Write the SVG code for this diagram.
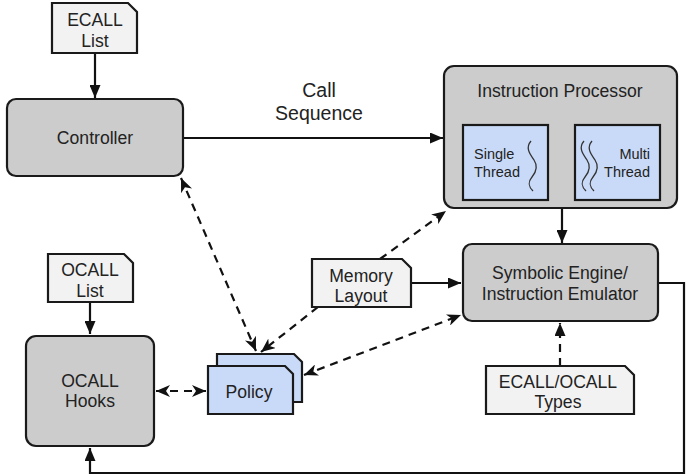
<svg xmlns="http://www.w3.org/2000/svg" width="686" height="476" viewBox="0 0 686 476">
<defs>
<style>
text{font-family:"Liberation Sans",Arial,sans-serif;fill:#222;text-anchor:middle}
.big{font-size:17.6px}
.sm{font-size:14.5px}
.proc{fill:#cccccc;stroke:#1a1a1a;stroke-width:2.2}
.note{fill:#f2f2f2;stroke:#1a1a1a;stroke-width:2.2}
.blue{fill:#c9daf8;stroke:#1a1a1a;stroke-width:2.2}
.wave{fill:none;stroke:#333;stroke-width:1.3}
.c{fill:none;stroke:#111;stroke-width:2.2}
.d{fill:none;stroke:#111;stroke-width:2.2;stroke-dasharray:8,6}
</style>
<marker id="a" markerWidth="13" markerHeight="11" refX="13" refY="5.5" orient="auto" markerUnits="userSpaceOnUse"><path d="M0,0 L13,5.5 L0,11 Z" fill="#111"/></marker>
<marker id="b" markerWidth="14" markerHeight="12" refX="14" refY="6" orient="auto" markerUnits="userSpaceOnUse"><path d="M0,0 L14,6 L0,12 L4,6 Z" fill="#111"/></marker>
<marker id="bs" markerWidth="14" markerHeight="12" refX="0" refY="6" orient="auto" markerUnits="userSpaceOnUse"><path d="M14,0 L0,6 L14,12 L10,6 Z" fill="#111"/></marker>
</defs>

<g id="connectors">
<path class="c" d="M95,53 V98" marker-end="url(#a)"/>
<path class="c" d="M183,138 H443" marker-end="url(#a)"/>
<path class="c" d="M562,208 V243" marker-end="url(#a)"/>
<path class="c" d="M411,283 H461" marker-end="url(#a)"/>
<path class="c" d="M90,302 V334" marker-end="url(#a)"/>
<path class="c" d="M658,283 H684 V473 H90 V448" marker-end="url(#a)"/>
<path class="d" d="M560,366 V323" marker-end="url(#a)"/>
<path class="d" d="M380,259 L446,211" marker-end="url(#b)"/>
<path class="d" d="M318,307 L261,352" marker-end="url(#b)"/>
<path class="d" d="M181,178 L256,351" marker-start="url(#bs)" marker-end="url(#b)"/>
<path class="d" d="M304,375 L461,315" marker-start="url(#bs)" marker-end="url(#b)"/>
<path class="d" d="M156,391 H206" marker-start="url(#bs)" marker-end="url(#b)"/>
</g>

<g id="ecall-list">
<path class="note" d="M52,3 H128 L137,12 V53 H52 Z"/>
<text class="big" x="95" y="26">ECALL</text>
<text class="big" x="95" y="47">List</text>
</g>

<g id="controller">
<rect class="proc" x="7" y="99" width="176" height="77" rx="9"/>
<text class="big" x="95" y="144">Controller</text>
</g>

<g id="call-sequence-label">
<text x="319" y="97" style="font-size:19.5px">Call</text>
<text x="319" y="120" style="font-size:19.5px">Sequence</text>
</g>

<g id="instruction-processor">
<rect class="proc" x="444" y="66" width="233" height="142" rx="10"/>
<text class="big" x="560" y="97">Instruction Processor</text>
<rect class="blue" x="463" y="125" width="85" height="75"/>
<text class="sm" x="474" y="159" style="text-anchor:start">Single</text>
<text class="sm" x="474" y="177" style="text-anchor:start">Thread</text>
<path class="wave" d="M531,141 C525,148 530,154 534,160 C538,166 537,171 532,177 C527,183 529,187 533,191"/>
<rect class="blue" x="575" y="125" width="85" height="75"/>
<text class="sm" x="650" y="159" style="text-anchor:end">Multi</text>
<text class="sm" x="650" y="177" style="text-anchor:end">Thread</text>
<path class="wave" d="M584,141 C578,148 583,154 587,160 C591,166 590,171 585,177 C580,183 582,187 586,191"/>
<path class="wave" d="M592,141 C586,148 591,154 595,160 C599,166 598,171 593,177 C588,183 590,187 594,191"/>
</g>

<g id="symbolic-engine">
<rect class="proc" x="463" y="244" width="195" height="77" rx="9"/>
<text class="big" x="560" y="279">Symbolic Engine/</text>
<text class="big" x="560" y="300">Instruction Emulator</text>
</g>

<g id="memory-layout">
<path class="note" d="M312,259 H402 L411,268 V307 H312 Z"/>
<text class="big" x="361" y="282">Memory</text>
<text class="big" x="361" y="302">Layout</text>
</g>

<g id="ecall-ocall-types">
<path class="note" d="M486,366 H625 L634,375 V414 H486 Z"/>
<text class="big" x="558" y="388">ECALL/OCALL</text>
<text class="big" x="558" y="408">Types</text>
</g>

<g id="ocall-list">
<path class="note" d="M48,254 H124 L133,263 V302 H48 Z"/>
<text class="big" x="90" y="276">OCALL</text>
<text class="big" x="90" y="297">List</text>
</g>

<g id="ocall-hooks">
<rect class="proc" x="26" y="336" width="128" height="110" rx="10"/>
<text class="big" x="90" y="387">OCALL</text>
<text class="big" x="90" y="407">Hooks</text>
</g>

<g id="policy">
<path class="blue" d="M217,354 H294 L302,362 V402 H217 Z"/>
<path class="blue" d="M208,366 H285 L293,374 V414 H208 Z"/>
<text class="big" x="249" y="398">Policy</text>
</g>
</svg>
